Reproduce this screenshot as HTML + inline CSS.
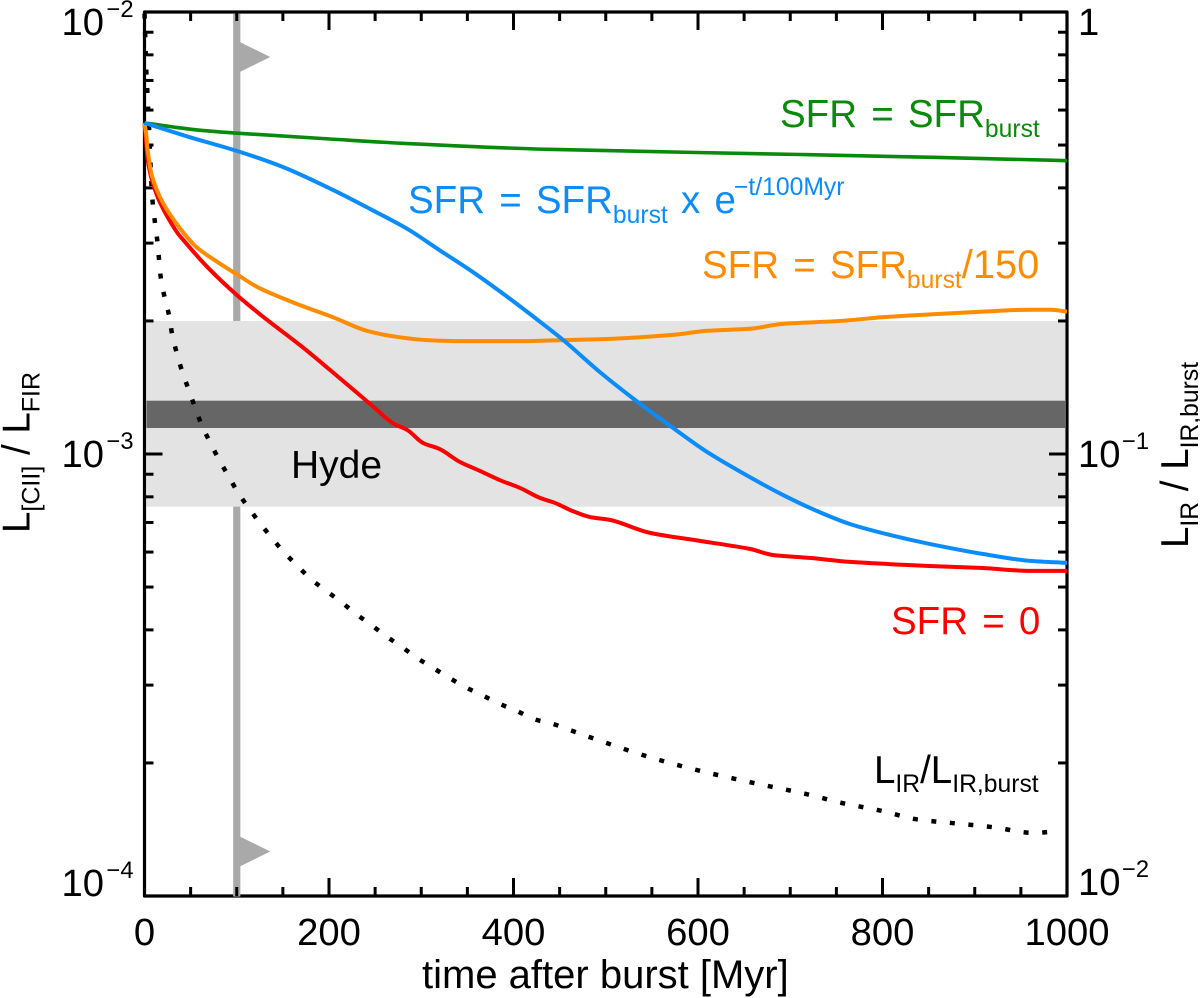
<!DOCTYPE html>
<html lang="en">
<head>
<meta charset="utf-8">
<title>L[CII]/LFIR after a starburst</title>
<style>
html,body{margin:0;padding:0;background:#fff;}
svg{display:block;}
text{font-family:"Liberation Sans",Arial,sans-serif;font-size:38.5px;fill:#000;}
.sub{font-size:24.7px;}
.ws{word-spacing:3.5px;}
</style>
</head>
<body>
<svg id="chart" xmlns="http://www.w3.org/2000/svg" width="1200" height="998" viewBox="0 0 1200 998">
  <rect x="0" y="0" width="1200" height="998" fill="#fff"/>
  <g id="frame"></g>
  <g id="marker"></g>
  <g id="bands"></g>
  <g id="ticks"></g>
  <g id="curves"></g>
  <g id="ticklabels"></g>

  <text x="422" y="988" style="font-size:40px">time after burst [Myr]</text>
  <text transform="translate(29.5,533) rotate(-90)">L<tspan class="sub" dy="10" style="font-size:25px">[CII]</tspan><tspan dy="-10"> / L</tspan><tspan class="sub" dy="10" style="font-size:25px">FIR</tspan></text>
  <text transform="translate(1188,548) rotate(-90)">L<tspan class="sub" dy="10">IR</tspan><tspan dy="-10"> / L</tspan><tspan class="sub" dy="10">IR,burst</tspan></text>

  <text class="ws" x="780" y="127" style="fill:#0a8a0a">SFR = SFR<tspan class="sub" dy="10">burst</tspan></text>
  <text class="ws" x="408" y="213" style="fill:#0a8cff">SFR = SFR<tspan class="sub" dy="10">burst</tspan><tspan dy="-10" x="681">x e</tspan><tspan class="sub" dy="-18" x="734">−t/100Myr</tspan></text>
  <text class="ws" x="702" y="278" style="fill:#ff8c00">SFR = SFR<tspan class="sub" dy="10">burst</tspan><tspan dy="-10" style="font-size:39.8px">/150</tspan></text>
  <text class="ws" x="891" y="634" style="fill:#ff0000">SFR = 0</text>
  <text x="874" y="783">L<tspan class="sub" dy="9">IR</tspan><tspan dy="-9">/L</tspan><tspan class="sub" dy="9">IR,burst</tspan></text>
  <text x="291" y="478" style="font-size:39px">Hyde</text>
</svg>

<script>
// Chart data (time in Myr; ratios as plotted on the log axes)
const xTickValues = [0, 200, 400, 600, 800, 1000];
const xMinorTickValues = [50, 100, 150, 250, 300, 350, 450, 500, 550, 650, 700, 750, 850, 900, 950];
const leftTickExponents = [-2, -3, -4];
const rightTickLabels = ['1', '10', '10'];
const rightTickExponents = ['', '−1', '−2'];
const rightTickValues = [1, 0.1, 0.01];
const minorMantissas = [2, 3, 4, 5, 6, 7, 8, 9];

const lightBand = [7.6e-4, 2.0e-3];
const darkBand = [1.145e-3, 1.32e-3];
const burstAge = 100;

const greenTime = [0, 57, 100, 201, 277, 437, 711, 855, 1000];
const greenRatio = [5.61e-3, 5.41e-3, 5.32e-3, 5.16e-3, 5.05e-3, 4.89e-3, 4.76e-3, 4.69e-3, 4.61e-3];

const blueTime = [0, 49, 100, 150, 204, 245, 285, 320, 356, 393, 429, 454, 494, 537, 573, 610, 656, 692, 729, 765, 808, 851, 909, 960, 1000];
const blueRatio = [5.61e-3, 5.21e-3, 4.85e-3, 4.46e-3, 3.96e-3, 3.58e-3, 3.23e-3, 2.89e-3, 2.58e-3, 2.27e-3, 1.99e-3, 1.81e-3, 1.53e-3, 1.30e-3, 1.145e-3, 1.01e-3, 8.87e-4, 8.08e-4, 7.43e-4, 6.94e-4, 6.56e-4, 6.26e-4, 5.94e-4, 5.73e-4, 5.67e-4];

const orangeTime = [0, 2, 3, 8, 20, 38, 57, 79, 100, 125, 169, 204, 241, 274, 306, 342, 410, 454, 501, 573, 610, 656, 692, 754, 801, 852, 909, 960, 982, 1000];
const orangeRatio = [5.61e-3, 5.27e-3, 4.95e-3, 4.26e-3, 3.70e-3, 3.25e-3, 2.93e-3, 2.72e-3, 2.55e-3, 2.37e-3, 2.17e-3, 2.04e-3, 1.90e-3, 1.84e-3, 1.81e-3, 1.80e-3, 1.80e-3, 1.81e-3, 1.82e-3, 1.86e-3, 1.90e-3, 1.92e-3, 1.97e-3, 2.00e-3, 2.04e-3, 2.07e-3, 2.10e-3, 2.12e-3, 2.12e-3, 2.10e-3];

const redTime = [0, 2, 3, 8, 17, 35, 42, 68, 100, 133, 169, 201, 226, 248, 269, 285, 302, 320, 342, 364, 385, 407, 429, 445, 464, 483, 505, 548, 602, 656, 681, 721, 765, 851, 909, 960, 1000];
const redRatio = [5.61e-3, 5.00e-3, 4.70e-3, 4.17e-3, 3.70e-3, 3.18e-3, 3.05e-3, 2.65e-3, 2.29e-3, 2.01e-3, 1.76e-3, 1.55e-3, 1.40e-3, 1.28e-3, 1.175e-3, 1.133e-3, 1.059e-3, 1.026e-3, 9.59e-4, 9.15e-4, 8.73e-4, 8.38e-4, 7.95e-4, 7.75e-4, 7.43e-4, 7.20e-4, 7.09e-4, 6.63e-4, 6.36e-4, 6.10e-4, 5.91e-4, 5.82e-4, 5.70e-4, 5.58e-4, 5.52e-4, 5.44e-4, 5.44e-4];

const irTime = [0, 2, 3, 5, 7, 9, 14, 18, 22, 27, 30, 35, 41, 48, 55, 62, 71, 81, 91, 101, 113, 125, 138, 151, 166, 180, 197, 213, 229, 246, 262, 279, 295, 313, 331, 349, 367, 385, 404, 423, 443, 462, 482, 548, 602, 656, 718, 758, 798, 838, 879, 921, 962, 990];
const irRatio = [1.0, 0.732, 0.666, 0.541, 0.428, 0.368, 0.302, 0.2475, 0.2254, 0.2042, 0.186, 0.1692, 0.1533, 0.1396, 0.1271, 0.1163, 0.1064, 0.0969, 0.0892, 0.0820, 0.0755, 0.0698, 0.0646, 0.0600, 0.0558, 0.0522, 0.0490, 0.0463, 0.0435, 0.0410, 0.0387, 0.0366, 0.0346, 0.0328, 0.0311, 0.0296, 0.0284, 0.0272, 0.0262, 0.0251, 0.0245, 0.0237, 0.0229, 0.0206, 0.0192, 0.0181, 0.0170, 0.0162, 0.0156, 0.0149, 0.0146, 0.0143, 0.0139, 0.0140];

// Axis geometry and scale functions
const plotLeft = 144.5, plotRight = 1067, plotTop = 12, plotBottom = 896;
const xDomain = [0, 1000];
const leftLogDomain = [-2, -4];
const rightLogDomain = [0, -2];

function xScale(t) {
  return plotLeft + (t - xDomain[0]) / (xDomain[1] - xDomain[0]) * (plotRight - plotLeft);
}
function leftScale(v) {
  return plotTop + (Math.log10(v) - leftLogDomain[0]) / (leftLogDomain[1] - leftLogDomain[0]) * (plotBottom - plotTop);
}
function rightScale(v) {
  return plotTop + (Math.log10(v) - rightLogDomain[0]) / (rightLogDomain[1] - rightLogDomain[0]) * (plotBottom - plotTop);
}

const NS = 'http://www.w3.org/2000/svg';
function make(tag, attrs, parent, text) {
  const el = document.createElementNS(NS, tag);
  for (const k in attrs) el.setAttribute(k, attrs[k]);
  if (text !== undefined) el.textContent = text;
  parent.appendChild(el);
  return el;
}

const frame = document.getElementById('frame');
const marker = document.getElementById('marker');
const bands = document.getElementById('bands');
const ticks = document.getElementById('ticks');
const curves = document.getElementById('curves');
const labels = document.getElementById('ticklabels');

// Frame
const frameRect = make('rect', {x: plotLeft, y: plotTop, width: plotRight - plotLeft, height: plotBottom - plotTop, fill: 'none', stroke: '#000', 'stroke-width': 3.2, 'stroke-linejoin': 'round'}, frame);



// Vertical burst-age marker with its two flags
const markerX = xScale(burstAge);
const markerLine = make('rect', {x: markerX - 3.6, y: plotTop + 1.5, width: 7.2, height: plotBottom - plotTop - 1, fill: '#a9a9a9'}, marker);


[57, 851.5].forEach(function (cy) {
  const flag = make('polygon', {points: (markerX + 3) + ',' + (cy - 15) + ' ' + (markerX + 33.5) + ',' + cy + ' ' + (markerX + 3) + ',' + (cy + 15), fill: '#a9a9a9'}, marker);
  
  
});

// Observational bands
const bandLeft = plotLeft + 2, bandRight = plotRight - 2;
const lightRect = make('rect', {x: bandLeft, y: leftScale(lightBand[1]), width: bandRight - bandLeft, height: leftScale(lightBand[0]) - leftScale(lightBand[1]), fill: '#e3e3e3'}, bands);


const darkRect = make('rect', {x: bandLeft, y: leftScale(darkBand[1]), width: bandRight - bandLeft, height: leftScale(darkBand[0]) - leftScale(darkBand[1]), fill: '#666666'}, bands);



// Ticks
function tickLine(x1, y1, x2, y2, name) {
  const t = make('line', {x1: x1, y1: y1, x2: x2, y2: y2, stroke: '#000', 'stroke-width': 3}, ticks);
  
  
}
xTickValues.forEach(function (v) {
  const x = xScale(v);
  tickLine(x, plotBottom, x, plotBottom - 18, 'x-major-tick-bottom');
  tickLine(x, plotTop, x, plotTop + 18, 'x-major-tick-top');
});
xMinorTickValues.forEach(function (v) {
  const x = xScale(v);
  tickLine(x, plotBottom, x, plotBottom - 9, 'x-minor-tick-bottom');
  tickLine(x, plotTop, x, plotTop + 9, 'x-minor-tick-top');
});
leftTickExponents.forEach(function (e) {
  const y = leftScale(Math.pow(10, e));
  if (e === -3) {
    tickLine(plotLeft, y, plotLeft + 18, y, 'y-major-tick-left');
    tickLine(plotRight, y, plotRight - 18, y, 'y-major-tick-right');
  }
  if (e < -2) {
    minorMantissas.forEach(function (m) {
      const my = leftScale(m * Math.pow(10, e));
      tickLine(plotLeft, my, plotLeft + 9, my, 'y-minor-tick-left');
      tickLine(plotRight, my, plotRight - 9, my, 'y-minor-tick-right');
    });
  }
});

// Curves: a monotone cubic through the data points, in pixel space
function pathFrom(times, values, scale) {
  const xs = times.map(xScale);
  const ys = values.map(scale);
  const n = xs.length;
  const slopes = [];
  for (let i = 0; i < n - 1; i++) slopes.push((ys[i + 1] - ys[i]) / (xs[i + 1] - xs[i]));
  const tangents = [slopes[0]];
  for (let i = 1; i < n - 1; i++) {
    const a = slopes[i - 1], b = slopes[i];
    const h0 = xs[i] - xs[i - 1], h1 = xs[i + 1] - xs[i];
    if (a * b <= 0) tangents.push(0);
    else tangents.push((h0 + h1) * 3 * a * b / ((2 * h1 + h0) * a + (h1 + 2 * h0) * b));
  }
  tangents.push(slopes[n - 2]);
  let d = 'M' + xs[0].toFixed(2) + ' ' + ys[0].toFixed(2);
  for (let i = 0; i < n - 1; i++) {
    const h = (xs[i + 1] - xs[i]) / 3;
    d += ' C' + (xs[i] + h).toFixed(2) + ' ' + (ys[i] + h * tangents[i]).toFixed(2) + ' ' +
      (xs[i + 1] - h).toFixed(2) + ' ' + (ys[i + 1] - h * tangents[i + 1]).toFixed(2) + ' ' +
      xs[i + 1].toFixed(2) + ' ' + ys[i + 1].toFixed(2);
  }
  return d;
}
const irCurve = make('path', {d: pathFrom(irTime, irRatio, rightScale), fill: 'none', stroke: '#000', 'stroke-width': 4.5, 'stroke-dasharray': '5 13.6', 'stroke-dashoffset': -1.7}, curves);


const redCurve = make('path', {d: pathFrom(redTime, redRatio, leftScale), fill: 'none', stroke: '#ff0000', 'stroke-width': 4, 'stroke-linejoin': 'round'}, curves);


const orangeCurve = make('path', {d: pathFrom(orangeTime, orangeRatio, leftScale), fill: 'none', stroke: '#ff8c00', 'stroke-width': 4, 'stroke-linejoin': 'round'}, curves);


const greenCurve = make('path', {d: pathFrom(greenTime, greenRatio, leftScale), fill: 'none', stroke: '#0a8a0a', 'stroke-width': 3.6, 'stroke-linejoin': 'round'}, curves);


const blueCurve = make('path', {d: pathFrom(blueTime, blueRatio, leftScale), fill: 'none', stroke: '#0a8cff', 'stroke-width': 4, 'stroke-linejoin': 'round'}, curves);



// Tick labels
xTickValues.forEach(function (v) {
  const lab = make('text', {x: xScale(v), y: 945, 'text-anchor': 'middle', style: 'font-size:38.2px'}, labels, String(v));
  
  
});
leftTickExponents.forEach(function (e) {
  const y = leftScale(Math.pow(10, e));
  const base = y + 23 - (e === -2 ? 0 : 10 * (e === -3 ? 1 : 2.3));
  const lab = make('text', {x: 104, y: base, 'text-anchor': 'end', style: 'font-size:38.2px'}, labels, '10');
  
  
  const sup = make('text', {x: 133.5, y: base - 18, 'text-anchor': 'end', style: 'font-size:23.7px'}, labels, '−' + Math.abs(e));
  
  
});
rightTickValues.forEach(function (v, i) {
  const y = rightScale(v);
  const base = y + 23 - (i === 0 ? 0 : 10 * (i === 1 ? 1 : 2.4));
  const lab = make('text', {x: 1078, y: base, style: 'font-size:38.2px'}, labels, rightTickLabels[i]);
  
  
  if (rightTickExponents[i]) {
    const sup = make('text', {x: 1122, y: base - 18, style: 'font-size:23.7px'}, labels, rightTickExponents[i]);
    
    
  }
});
</script>
</body>
</html>
